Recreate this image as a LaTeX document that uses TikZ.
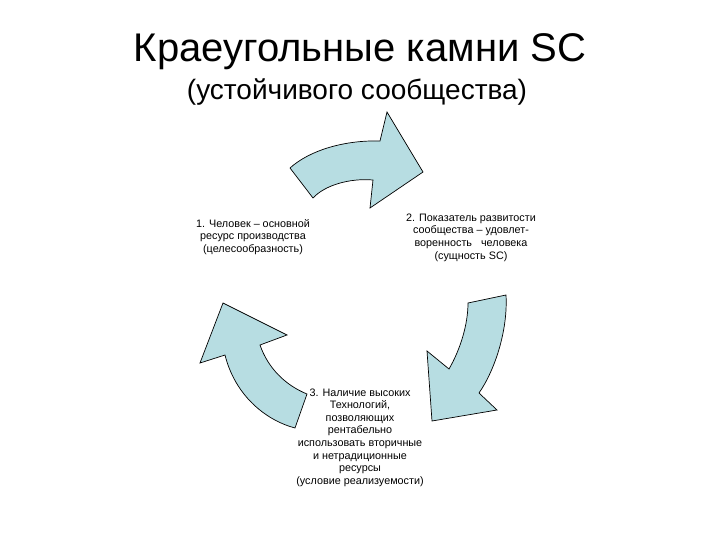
\documentclass[tikz,border=0pt]{standalone}
\usepackage{fontspec}
\setmainfont{Liberation Sans}
\definecolor{arrowfill}{RGB}{183,221,226}
\begin{document}
\begin{tikzpicture}[x=1pt,y=-1pt,
  cyclearrow/.style={draw=black,fill=arrowfill,line width=0.7pt,line join=miter},
  lbl/.style={align=center,font=\fontsize{10.8}{12.6}\selectfont,inner sep=0pt}]
\useasboundingbox[fill=white] (0,0) rectangle (720,540);
% title
\node[anchor=base,inner sep=0pt,font=\fontsize{40}{48}\selectfont] (title) at (360,62) {Краеугольные камни SC};
\node[anchor=base,inner sep=0pt,font=\fontsize{28}{34}\selectfont] (subtitle) at (357,100) {(устойчивого сообщества)};
% top arrow
\draw[cyclearrow] (290,168) .. controls (310,150) and (345,140) .. (380,141)
  -- (387,112) -- (423,172) -- (370,208) -- (373,180)
  .. controls (350,178) and (325,185) .. (313,198) -- cycle;
% right arrow
\draw[cyclearrow] (468,303) -- (506,295) .. controls (508,330) and (495,370) .. (479,393)
  -- (497,410) -- (432,421) -- (427,351) -- (449,369)
  .. controls (460,350) and (468,325) .. (468,303) -- cycle;
% left arrow
\draw[cyclearrow] (307,394) -- (295,428) .. controls (265,420) and (235,395) .. (225,355)
  -- (200,363) -- (223,303) -- (287,335) -- (260,345)
  .. controls (268,368) and (285,385) .. (307,394) -- cycle;
% labels
\node[lbl] (t1) at (253,237) {1. Человек -- основной\\ресурс производства\\(целесообразность)};
\node[lbl] (t2) at (471,237.5) {2. Показатель развитости\\сообщества -- удовлет-\\воренность\ \ \ человека\\(сущность SC)};
\node[lbl] (t3) at (360,437.5) {3. Наличие высоких\\Технологий,\\позволяющих\\рентабельно\\использовать вторичные\\и нетрадиционные\\ресурсы\\(условие реализуемости)};
\end{tikzpicture}
\end{document}
